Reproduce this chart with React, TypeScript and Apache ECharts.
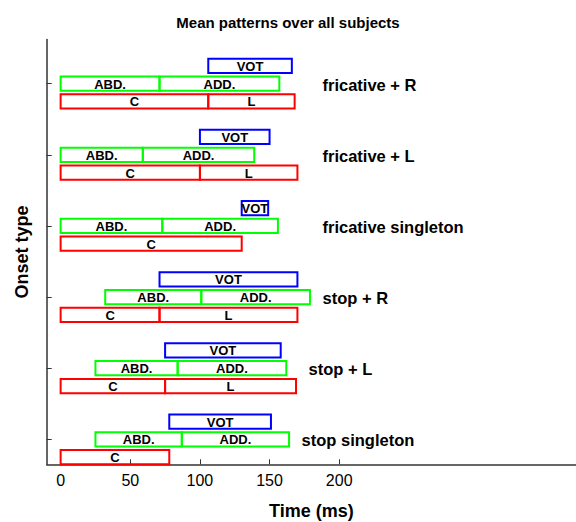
import React, { useEffect, useRef } from "react";
import * as echarts from "echarts";

// Onset types, bottom (y = 1) to top (y = 6)
const categories = [
  "stop singleton",
  "stop + L",
  "stop + R",
  "fricative singleton",
  "fricative + L",
  "fricative + R",
];
// Acoustic intervals (ms)
const cEnd = [78, 75, 71, 130, 100, 106];
const lEnd: (number | null)[] = [null, 169, 170, null, 170, 168];
// Articulatory intervals (ms)
const abdStart = [25, 25, 32, 0, 0, 0];
const abdEnd = [87, 84, 101, 73, 59, 71];
const addEnd = [164, 162, 179, 156, 139, 157];
// VOT (ms)
const votStart = [78, 75, 71, 130, 100, 106];
const votEnd = [151, 158, 170, 149, 150, 166];
// Where each onset-type label starts (ms)
const labelX = [173, 178, 188, 188, 188, 188];

const xTicks = [0, 50, 100, 150, 200];
const yTicks = [1, 2, 3, 4, 5, 6];

const RED = "#ff0000";
const GREEN = "#00ff00";
const BLUE = "#0000ff";
const FONT = '"Liberation Sans", Arial, Helvetica, sans-serif';

type Seg = { start: number; end: number; y: number; label: string; color: string };

function buildSegments(): Seg[] {
  const segs: Seg[] = [];
  categories.forEach((_, i) => {
    const pos = i + 1;
    segs.push({ start: 0, end: cEnd[i], y: pos - 0.25, label: "C", color: RED });
    const l = lEnd[i];
    if (l !== null) segs.push({ start: cEnd[i], end: l, y: pos - 0.25, label: "L", color: RED });
    segs.push({ start: abdStart[i], end: abdEnd[i], y: pos, label: "ABD.", color: GREEN });
    segs.push({ start: abdEnd[i], end: addEnd[i], y: pos, label: "ADD.", color: GREEN });
    segs.push({ start: votStart[i], end: votEnd[i], y: pos + 0.25, label: "VOT", color: BLUE });
  });
  return segs;
}

export default function App() {
  const ref = useRef<HTMLDivElement>(null);

  useEffect(() => {
    if (!ref.current) return;
    const chart = echarts.init(ref.current, null, { renderer: "svg" });
    const segs = buildSegments();
    const HALF = 0.1;

    chart.setOption({
      animation: false,
      backgroundColor: "#ffffff",
      title: {
        text: "Mean patterns over all subjects",
        left: "center",
        top: 10,
        textStyle: { fontFamily: FONT, fontWeight: "bold", fontSize: 15, color: "#000" },
      },
      grid: {
        left: 46.7,
        right: 0,
        top: 39.5,
        bottom: 57.7,
        containLabel: false,
        outerBoundsMode: "none",
      },
      xAxis: {
        type: "value",
        min: -10,
        max: 370,
        name: "Time (ms)",
        nameLocation: "middle",
        nameGap: 38,
        nameTextStyle: { fontFamily: FONT, fontWeight: "bold", fontSize: 18, color: "#000" },
        axisLine: { show: true, onZero: false, lineStyle: { color: "#333", width: 1.5 } },
        axisTick: { show: true, inside: true, length: 5, customValues: xTicks, lineStyle: { color: "#333" } },
        axisLabel: { customValues: xTicks, fontFamily: FONT, fontSize: 16, color: "#000", margin: 8 },
        splitLine: { show: false },
      },
      yAxis: {
        type: "value",
        min: 0.65,
        max: 6.62,
        name: "Onset type",
        nameLocation: "middle",
        nameRotate: 90,
        nameGap: 16,
        nameTextStyle: { fontFamily: FONT, fontWeight: "bold", fontSize: 18, color: "#000" },
        axisLine: { show: true, onZero: false, lineStyle: { color: "#333", width: 1.5 } },
        axisTick: { show: true, inside: true, length: 5, customValues: yTicks, lineStyle: { color: "#333" } },
        axisLabel: { show: false },
        splitLine: { show: false },
      },
      series: [
        {
          type: "custom",
          clip: false,
          data: segs.map((s) => [s.start, s.end, s.y]),
          encode: { x: [0, 1], y: 2 },
          renderItem: (params: any, api: any) => {
            const s = segs[params.dataIndex];
            const p0 = api.coord([s.start, s.y + HALF]);
            const p1 = api.coord([s.end, s.y - HALF]);
            return {
              type: "group",
              children: [
                {
                  type: "rect",
                  shape: { x: p0[0], y: p0[1], width: p1[0] - p0[0], height: p1[1] - p0[1] },
                  style: { fill: "none", stroke: s.color, lineWidth: 2 },
                },
                {
                  type: "text",
                  x: (p0[0] + p1[0]) / 2,
                  y: (p0[1] + p1[1]) / 2 + 0.5,
                  style: {
                    text: s.label,
                    align: "center",
                    verticalAlign: "middle",
                    fontFamily: FONT,
                    fontWeight: "bold",
                    fontSize: 13,
                    fill: "#000",
                  },
                },
              ],
            };
          },
        },
        {
          type: "custom",
          clip: false,
          data: categories.map((c, i) => [labelX[i], i + 1]),
          encode: { x: 0, y: 1 },
          renderItem: (params: any, api: any) => {
            const i = params.dataIndex;
            const p = api.coord([labelX[i], i + 1]);
            return {
              type: "text",
              x: p[0],
              y: p[1] + 1,
              style: {
                text: categories[i],
                align: "left",
                verticalAlign: "middle",
                fontFamily: FONT,
                fontWeight: "bold",
                fontSize: 16.5,
                fill: "#000",
              },
            };
          },
        },
      ],
    });

    return () => chart.dispose();
  }, []);

  return (
    <div
      ref={ref}
      style={{ position: "fixed", left: 0, top: 0, width: 576, height: 522, background: "#fff" }}
    />
  );
}
